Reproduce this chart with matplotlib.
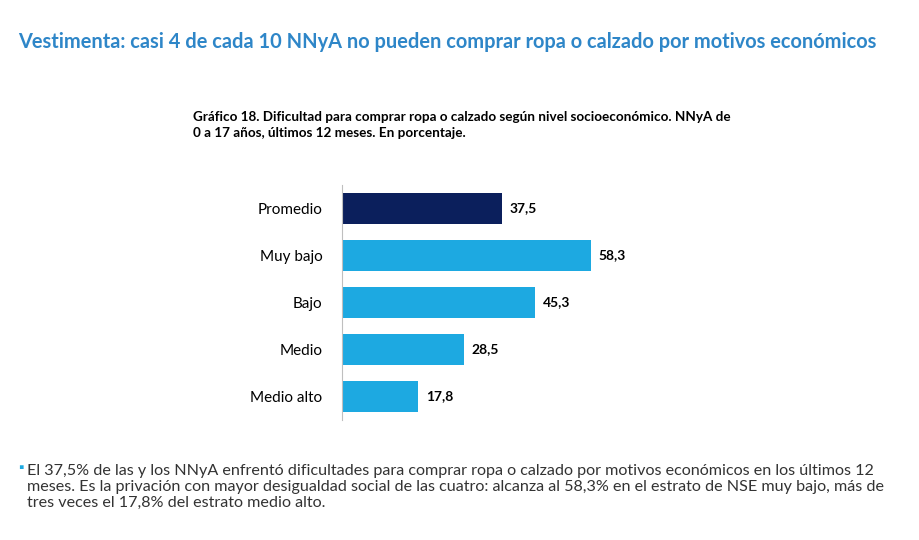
import matplotlib.pyplot as plt

plt.rcParams['font.family'] = ['Lato', 'DejaVu Sans']

categorias = ["Promedio", "Muy bajo", "Bajo", "Medio", "Medio alto"]
valores = [37.5, 58.3, 45.3, 28.5, 17.8]
colores = ["#0B1F5C", "#1DA9E1", "#1DA9E1", "#1DA9E1", "#1DA9E1"]

fig = plt.figure(figsize=(9.19, 5.4), dpi=100)
W, H = 919, 540
ax = fig.add_axes([342 / W, 1 - 420 / H, 340 / W, 235 / H])

y = list(range(len(categorias)))
ax.barh(y, valores, height=0.64, color=colores)
ax.set_ylim(4.5, -0.5)
ax.set_xlim(0, 340 / 4.27)
for yi, v in zip(y, valores):
    ax.text(v + 1.8, yi, f"{v:.1f}".replace(".", ","), va="center", ha="left",
            fontsize=10, fontweight="bold")
ax.set_yticks(y)
ax.set_yticklabels(categorias, fontsize=11)
ax.tick_params(axis="y", length=0, pad=14)
ax.set_xticks([])
for s in ["top", "right", "bottom"]:
    ax.spines[s].set_visible(False)
ax.spines["left"].set_color("#BFBFBF")

fig.text(18 / W, 1 - 42 / H,
         "Vestimenta: casi 4 de cada 10 NNyA no pueden comprar ropa o calzado por motivos económicos",
         color="#2E86C8", fontsize=14.4, fontweight="bold", va="center")
fig.text(193 / W, 1 - 125 / H,
         "Gráfico 18. Dificultad para comprar ropa o calzado según nivel socioeconómico. NNyA de\n"
         "0 a 17 años, últimos 12 meses. En porcentaje.",
         fontsize=9.7, fontweight="bold", va="center", linespacing=1.45)
fig.text(18 / W, 1 - 468 / H, "▪", color="#1DA9E1", fontsize=10, va="center")
fig.text(27 / W, 1 - 487 / H,
         "El 37,5% de las y los NNyA enfrentó dificultades para comprar ropa o calzado por motivos económicos en los últimos 12\n"
         "meses. Es la privación con mayor desigualdad social de las cuatro: alcanza al 58,3% en el estrato de NSE muy bajo, más de\n"
         "tres veces el 17,8% del estrato medio alto.",
         fontsize=11.6, color="#333333", va="center", linespacing=1.2)

fig.savefig("out.png", dpi=100)
